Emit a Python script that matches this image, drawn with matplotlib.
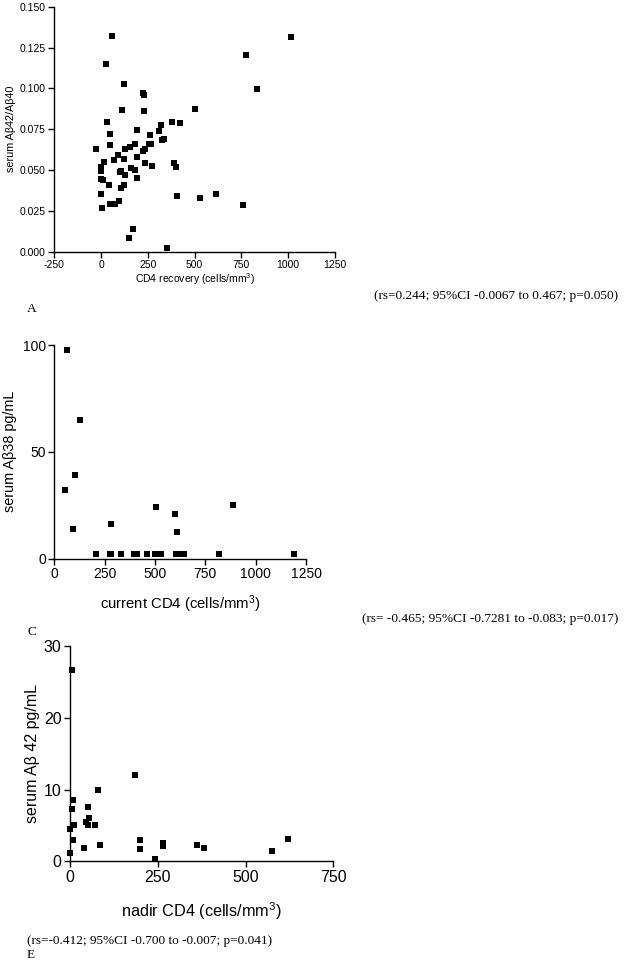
import matplotlib
matplotlib.use("Agg")
import matplotlib.pyplot as plt
from matplotlib.ticker import FormatStrFormatter

plt.rcParams['font.family'] = ['Liberation Sans', 'DejaVu Sans']
plt.rcParams['mathtext.default'] = 'regular'
plt.rcParams['axes.unicode_minus'] = False

# panel A: CD4 recovery vs serum Ab42/Ab40
a_x = [-28, 58, 28, 122, 223, 229, 230, 111, 31, 49, 46, 190, 259, 181, 154, 127,
       237, 222, 255, 266, 90, 67, 124, 193, 17, 234, 271, -3, -3, -3, 108, 101,
       159, 179, 127, 190, -3, 8, 40, 124, 106, -3, 47, 63, 74, 97, 6, 168, 150,
       353, 321, 310, 325, 334, 378, 421, 392, 398, 407, 504, 526, 613, 761, 775,
       832, 1013]
a_y = [0.063, 0.132, 0.1147, 0.1027, 0.0971, 0.0961, 0.0859, 0.087, 0.0794, 0.0722,
       0.0651, 0.0747, 0.0712, 0.0659, 0.0641, 0.0631, 0.0627, 0.0618, 0.0659, 0.0661,
       0.0592, 0.0563, 0.0569, 0.0578, 0.0549, 0.0545, 0.0527, 0.0516, 0.0504, 0.0492,
       0.0496, 0.0486, 0.0514, 0.050, 0.0467, 0.0451, 0.0443, 0.0439, 0.041, 0.041,
       0.0388, 0.0355, 0.0292, 0.0292, 0.0292, 0.031, 0.0265, 0.0137, 0.0086, 0.0022,
       0.0773, 0.0737, 0.0682, 0.0688, 0.0796, 0.079, 0.0545, 0.0516, 0.0341, 0.0873,
       0.0329, 0.0351, 0.0288, 0.1202, 0.0994, 0.1314]

# panel C: current CD4 vs serum Ab38
c_x = [65, 129, 104, 53, 93, 283, 503, 599, 609, 887,
       205, 275, 283, 333, 395, 413, 458, 500, 515, 530, 605, 620, 632, 645, 818, 1190]
c_y = [97.7, 64.7, 39.3, 32.0, 13.9, 16.1, 24.0, 21.1, 12.6, 25.1,
       2.2, 2.2, 2.2, 2.2, 2.2, 2.2, 2.2, 2.2, 2.2, 2.2, 2.2, 2.2, 2.2, 2.2, 2.2, 2.2]

# panel E: nadir CD4 vs serum Ab42
e_x = [6, 9, 5, 0, 10, 9, 0, 50, 55, 45, 52, 70, 81, 41, 85, 185, 200, 198,
       266, 266, 242, 363, 383, 575, 621]
e_y = [26.6, 8.6, 7.3, 4.5, 5.1, 3.0, 1.1, 7.6, 6.1, 5.5, 5.0, 5.0, 10.0, 1.8, 2.3,
       12.0, 2.9, 1.7, 2.6, 2.1, 0.3, 2.3, 1.8, 1.5, 3.1]

W, H = 625, 961
fig = plt.figure(figsize=(W / 100, H / 100), dpi=100)


def make_axes(left, right, top, bottom):
    return fig.add_axes([left / W, 1 - bottom / H, (right - left) / W, (bottom - top) / H])


def style(ax, tsize):
    for s in ['top', 'right']:
        ax.spines[s].set_visible(False)
    for s in ['left', 'bottom']:
        ax.spines[s].set_linewidth(1.0)
    ax.tick_params(direction='out', length=4, width=1.0, labelsize=tsize, pad=2)


# A
ax = make_axes(54.3, 335, 6.7, 251.7)
ax.scatter(a_x, a_y, marker='s', s=14, color='black', linewidths=0, clip_on=False)
ax.set_xlim(-250, 1250)
ax.set_ylim(0, 0.15)
ax.set_xticks([-250, 0, 250, 500, 750, 1000, 1250])
ax.set_yticks([0, 0.025, 0.05, 0.075, 0.1, 0.125, 0.15])
ax.yaxis.set_major_formatter(FormatStrFormatter('%.3f'))
style(ax, 7.5)
ax.set_ylabel('serum Aβ42/Aβ40', fontsize=7.8, labelpad=3)
ax.set_xlabel('CD4 recovery (cells/mm$^3$)', fontsize=7.5, labelpad=1)

# C
ax = make_axes(54.3, 306, 345, 558.7)
ax.scatter(c_x, c_y, marker='s', s=22, color='black', linewidths=0, clip_on=False)
ax.set_xlim(0, 1250)
ax.set_ylim(0, 100)
ax.set_xticks([0, 250, 500, 750, 1000, 1250])
ax.set_yticks([0, 50, 100])
style(ax, 10)
ax.set_ylabel('serum Aβ38 pg/mL', fontsize=10.4, labelpad=4)
ax.set_xlabel('current CD4 (cells/mm$^3$)', fontsize=10.7, labelpad=9)

# E
ax = make_axes(70, 333.3, 646, 861.3)
ax.scatter(e_x, e_y, marker='s', s=24, color='black', linewidths=0, clip_on=False)
ax.set_xlim(0, 750)
ax.set_ylim(0, 30)
ax.set_xticks([0, 250, 500, 750])
ax.set_yticks([0, 10, 20, 30])
style(ax, 11.5)
ax.set_ylabel('serum Aβ 42 pg/mL', fontsize=11.5, labelpad=3)
ax.set_xlabel('nadir CD4 (cells/mm$^3$)', fontsize=11.7, labelpad=11)

serif = ['Liberation Serif', 'DejaVu Serif']
fig.text(618 / W, 1 - 296 / H, '(rs=0.244; 95%CI -0.0067 to 0.467; p=0.050)',
         family=serif, fontsize=9.6, ha='right', va='center')
fig.text(27 / W, 1 - 309 / H, 'A', family=serif, fontsize=9.6, ha='left', va='center')
fig.text(618 / W, 1 - 619 / H, '(rs= -0.465; 95%CI -0.7281 to -0.083; p=0.017)',
         family=serif, fontsize=9.6, ha='right', va='center')
fig.text(27 / W, 1 - 632 / H, 'C', family=serif, fontsize=9.6, ha='left', va='center')
fig.text(27 / W, 1 - 941 / H, '(rs=-0.412; 95%CI -0.700 to -0.007; p=0.041)',
         family=serif, fontsize=9.5, ha='left', va='center')
fig.text(27 / W, 1 - 955 / H, 'E', family=serif, fontsize=9.5, ha='left', va='center')

fig.savefig('out.png', dpi=100)
